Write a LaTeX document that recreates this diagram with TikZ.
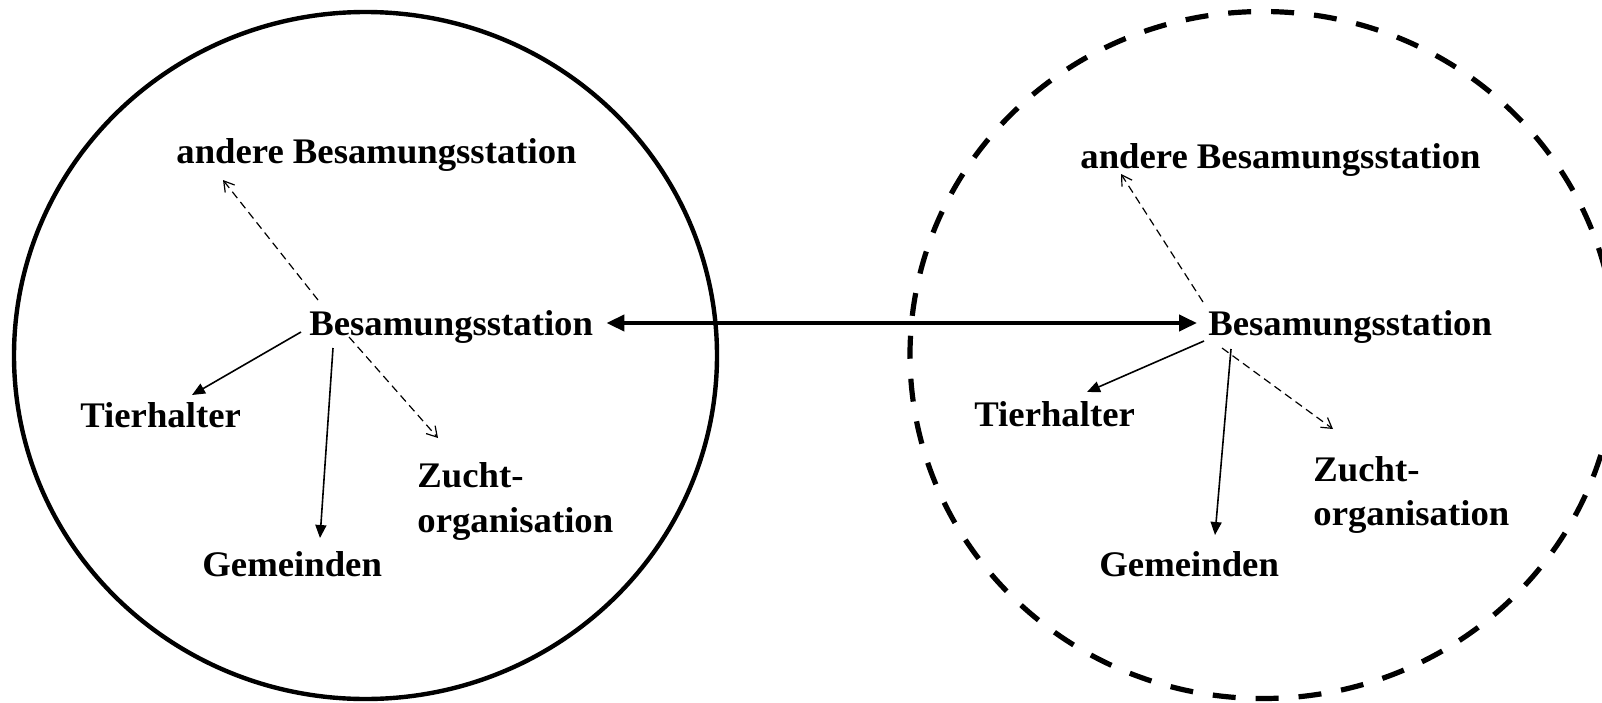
\documentclass[tikz,border=0pt]{standalone}
\usepackage{fontspec}
\newfontfamily\lbf[FakeStretch=1.02]{Liberation Serif Bold}
\usetikzlibrary{calc,arrows.meta}
\begin{document}
\begin{tikzpicture}[x=0.5pt,y=-0.5pt,
  lbl/.style={inner sep=0pt, anchor=base west, font=\lbf\fontsize{18pt}{21pt}\selectfont},
  solidarr/.style={line width=0.8pt, -{Triangle[length=6.5pt,width=5.5pt]}},
  dasharr/.style={line width=0.6pt, dash pattern=on 4pt off 2.5pt, -{Straight Barb[length=5pt,width=6pt,line width=0.6pt]}},
  mainarr/.style={line width=2pt, {Triangle[length=9pt,width=8pt]}-{Triangle[length=9pt,width=8pt]}},
  solidring/.style={line width=2.2pt},
  dashring/.style={line width=2.6pt, dash pattern=on 11.5pt off 10pt}
]
\useasboundingbox (0,0) rectangle (1602,702);
\fill[white] (0,0) rectangle (1602,702);

% rings
\draw[solidring] (365.5,355.5) ellipse [x radius=175.75pt, y radius=171.75pt];
\draw[dashring] (1263,355) ellipse [x radius=176.5pt, y radius=171.75pt];

% left group
\node[lbl] (andereL) at (176,163) {andere Besamungsstation};
\node[lbl] (bsL) at (309,335) {Besamungsstation};
\node[lbl] (tierL) at (80,427) {Tierhalter};
\node[lbl] (gemL) at (202,576) {Gemeinden};
\node[lbl] (zuchtL) at (417,487) {Zucht-};
\node[lbl] (orgL) at ($(zuchtL.base west)+(0,45)$) {organisation};

% right group
\node[lbl] (andereR) at (1080,168) {andere Besamungsstation};
\node[lbl] (bsR) at (1208,335) {Besamungsstation};
\node[lbl] (tierR) at (974,426) {Tierhalter};
\node[lbl] (gemR) at (1099,576) {Gemeinden};
\node[lbl] (zuchtR) at (1313,481) {Zucht-};
\node[lbl] (orgR) at ($(zuchtR.base west)+(0,44)$) {organisation};

% left connectors
\draw[dasharr] ($(bsL.base west)+(9,-35)$) -- ($(andereL.base west)+(47,17)$);
\draw[solidarr] ($(bsL.base west)+(-8,-3)$) -- ($(tierL.base west)+(112,-32)$);
\draw[solidarr] ($(bsL.base west)+(24,13)$) -- ($(gemL.base west)+(118,-38)$);
\draw[dasharr] ($(bsL.base west)+(40,2)$) -- ($(zuchtL.base west)+(21,-49)$);

% right connectors
\draw[dasharr] ($(bsR.base west)+(-5,-33)$) -- ($(andereR.base west)+(41,6)$);
\draw[solidarr] ($(bsR.base west)+(-4,6)$) -- ($(tierR.base west)+(113,-34)$);
\draw[solidarr] ($(bsR.base west)+(23,14)$) -- ($(gemR.base west)+(116,-41)$);
\draw[dasharr] ($(bsR.base west)+(14,13)$) -- ($(zuchtR.base west)+(20,-52)$);

% main double arrow
\draw[mainarr] ($(bsL.base east)+(13,-12)$) -- ($(bsR.base west)+(-11,-12)$);
\end{tikzpicture}
\end{document}
